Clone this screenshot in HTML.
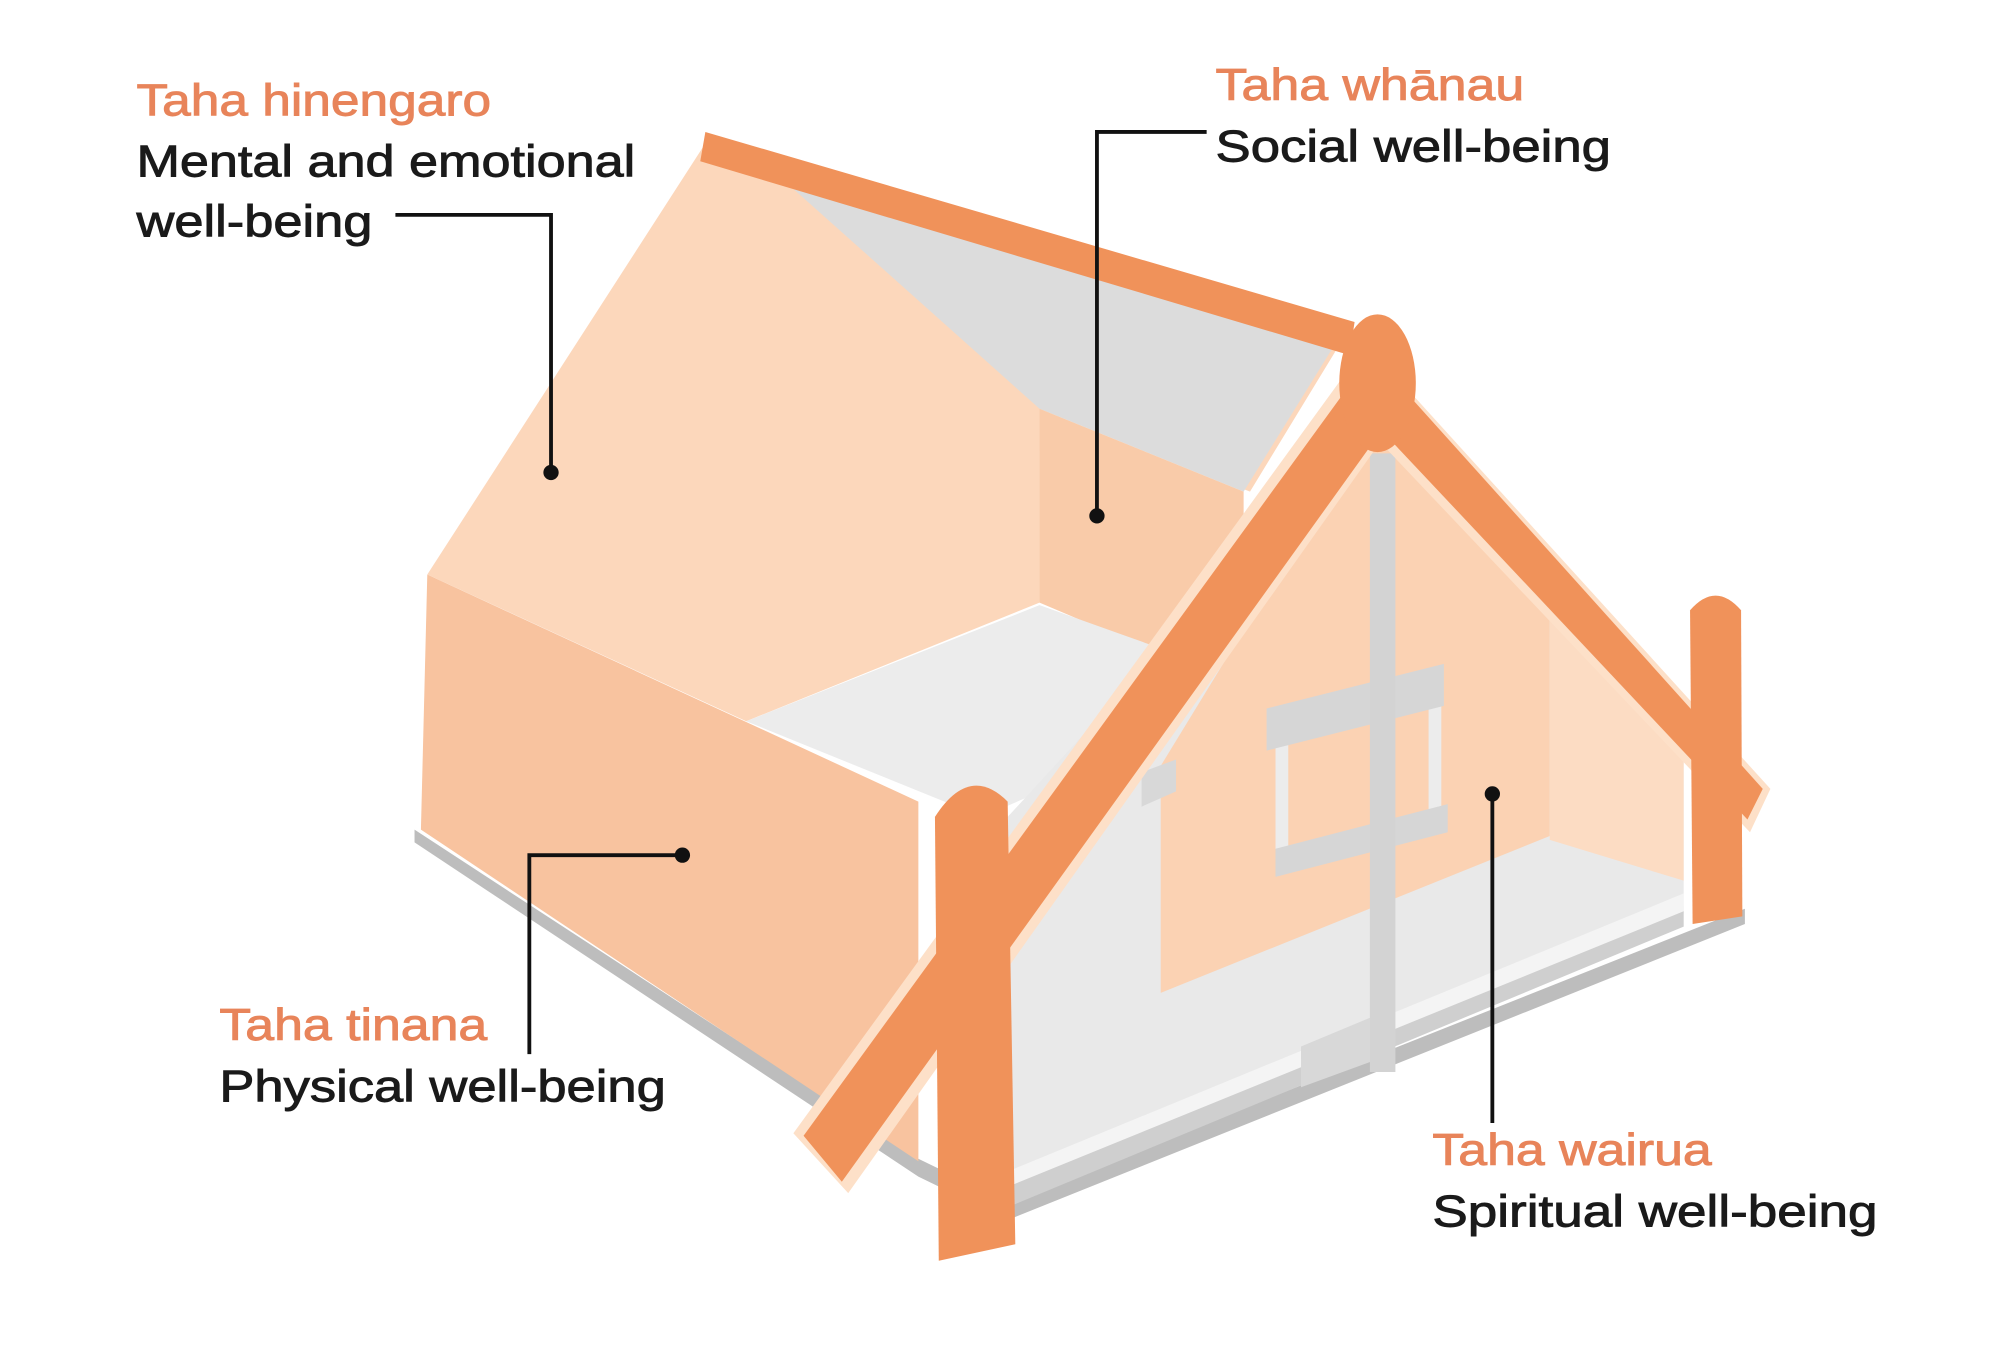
<!DOCTYPE html>
<html><head><meta charset="utf-8"><style>
html,body{margin:0;padding:0;background:#fff;}
svg{display:block;}
text{font-family:"Liberation Sans",Arial,sans-serif;font-size:35px;stroke-width:0.7px;}
.o{fill:#e8845a;stroke:#e8845a;}
.k{fill:#1a1a1a;stroke:#1a1a1a;}
</style></head><body>
<svg width="2000" height="1357" viewBox="0 0 1568 1063" xmlns="http://www.w3.org/2000/svg">
<rect width="1568" height="1063" fill="#fff"/>
<polygon points="325,650 720,908 790,942 1368,712 1368,724 790,956 720,922 325,660" fill="#bdbdbd"/>
<polygon points="335,450 720,628 720,910 330,650" fill="#f8c39f"/>
<polygon points="553,112 335,450 585,565 815,472 815,320 980,385 1050,270" fill="#fcd7bb"/>
<polygon points="600,128 1050,264 975,385 815,320" fill="#dcdcdc"/>
<polygon points="815,320 975,385 975,540 815,472" fill="#f9cba9"/>
<polygon points="585,565 815,474 1000,540 770,640" fill="#ececec"/>
<polygon points="1075,330 790,640 790,930 1320,715 1320,580" fill="#e9e9e9"/>
<polygon points="1075,330 910,600 910,778 1215,655 1215,480" fill="#fbd2b3"/>
<polygon points="1215,480 1320,590 1320,690 1215,658" fill="#fcdcc3"/>
<polygon points="790,918 1320,700 1320,716 790,934" fill="#f4f4f4"/>
<polygon points="790,930 1320,714 1320,726 790,946" fill="#cfcfcf"/>
<polygon points="1020,820 1080,795 1080,830 1020,852" fill="#d8d8d8"/>
<polygon points="895,605 922,595 922,620 895,632" fill="#d8d8d8"/>
<polygon points="1000,560 1010,558 1010,680 1000,684" fill="#ececec"/>
<polygon points="1120,530 1130,528 1130,650 1120,652" fill="#ececec"/>
<polygon points="993,555 1132,520 1132,553 993,588" fill="#d6d6d6"/>
<polygon points="1000,665 1135,630 1135,652 1000,687" fill="#d6d6d6"/>
<rect x="1074" y="355" width="20" height="485" fill="#d3d3d3"/>
<polygon points="553,103 1062,252 1058,278 549,126" fill="#f0925a"/>
<polygon points="1058,288 1090,335 665,935 622,888" fill="#fde0c8"/>
<polygon points="1062,296 1084,336 660,926 630,890" fill="#f0925a"/>
<polygon points="1092,292 1388,618 1372,652 1078,342" fill="#fde0c8"/>
<polygon points="1096,300 1382,618 1370,642 1084,338" fill="#f0925a"/>
<ellipse cx="1080" cy="300" rx="30" ry="54" fill="#f0925a"/>
<path d="M733,640 Q760,598 790,628 L796,975 L736,988 Z" fill="#f0925a"/>
<path d="M1325,478 Q1345,455 1365,478 L1366,718 L1327,724 Z" fill="#f0925a"/>
<g stroke="#111" stroke-width="3" fill="none">
<polyline points="310,168 432,168 432,368"/>
<polyline points="946,103 860,103 860,402"/>
<polyline points="535,670 415,670 415,826"/>
<polyline points="1170,622 1170,880"/>
</g>
<g fill="#111">
<circle cx="432" cy="370" r="6"/>
<circle cx="860" cy="404" r="6"/>
<circle cx="535" cy="670" r="6"/>
<circle cx="1170" cy="622" r="6"/>
</g>
<text class="o" x="107" y="90" textLength="278" lengthAdjust="spacingAndGlyphs">Taha hinengaro</text>
<text class="k" x="107" y="138" textLength="391" lengthAdjust="spacingAndGlyphs">Mental and emotional</text>
<text class="k" x="107" y="185" textLength="185" lengthAdjust="spacingAndGlyphs">well-being</text>
<text class="o" x="953" y="78" textLength="242" lengthAdjust="spacingAndGlyphs">Taha whānau</text>
<text class="k" x="953" y="126" textLength="310" lengthAdjust="spacingAndGlyphs">Social well-being</text>
<text class="o" x="172" y="815" textLength="210" lengthAdjust="spacingAndGlyphs">Taha tinana</text>
<text class="k" x="172" y="863" textLength="350" lengthAdjust="spacingAndGlyphs">Physical well-being</text>
<text class="o" x="1123" y="913" textLength="219" lengthAdjust="spacingAndGlyphs">Taha wairua</text>
<text class="k" x="1123" y="961" textLength="349" lengthAdjust="spacingAndGlyphs">Spiritual well-being</text>
</svg>
</body></html>
